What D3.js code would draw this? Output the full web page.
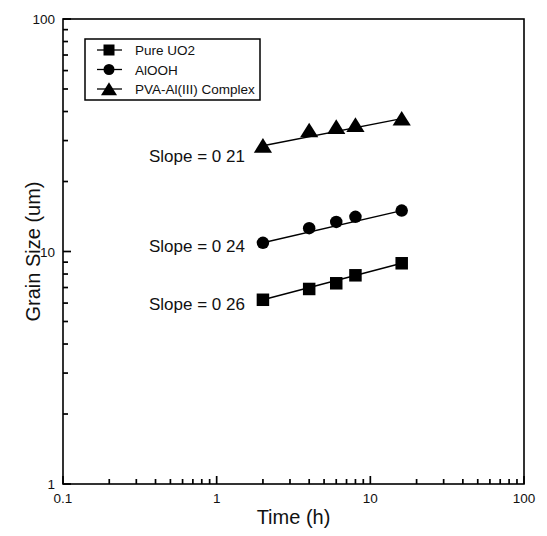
<!DOCTYPE html>
<html>
<head>
<meta charset="utf-8">
<script src="https://cdn.jsdelivr.net/npm/d3@7"></script>
<style>
  body { margin: 0; background: #fff; }
  svg { font-family: "Liberation Sans", Arial, sans-serif; }
</style>
</head>
<body>
<div id="drawing"></div>
<script>
// data
const times = [2, 4, 6, 8, 16];
const pureUO2 = [6.2, 6.9, 7.3, 7.9, 8.9];
const alooh = [10.9, 12.6, 13.4, 14.1, 15.0];
const pvaAl = [28.5, 33.2, 34.3, 35.0, 37.3];
const seriesNames = ["Pure UO2", "AlOOH", "PVA-Al(III) Complex"];
const seriesShapes = ["square", "circle", "triangle"];
const slopeLabels = ["Slope = 0 26", "Slope = 0 24", "Slope = 0 21"];
const xTickValues = [0.1, 1, 10, 100];
const yTickValues = [1, 10, 100];

const width = 547;
const height = 536;
const margin = {top: 19, right: 23, bottom: 52, left: 63};
const w = width - margin.left - margin.right;
const h = height - margin.top - margin.bottom;

const svg = d3.select("#drawing").append("svg")
  .attr("width", width)
  .attr("height", height);

const g = svg.append("g")
  .attr("transform", `translate(${margin.left}, ${margin.top})`);

const xScale = d3.scaleLog().domain([0.1, 100]).range([0, w]);
const yScale = d3.scaleLog().domain([1, 100]).range([h, 0]);

function minors(lo, hi) {
  let out = [];
  for (let d = lo; d < hi; d *= 10) {
    for (let k = 2; k <= 9; k++) out.push(d * k);
  }
  return out;
}

// frame
g.append("rect")
  .attr("x", 0).attr("y", 0).attr("width", w).attr("height", h)
  .attr("fill", "none").attr("stroke", "#000").attr("stroke-width", 1.6);

// ticks, pointing inward, on bottom and left only
const xTicks = minors(0.1, 100).map(v => ({v: v, len: 5}))
  .concat(xTickValues.map(v => ({v: v, len: 8})));
const yTicks = minors(1, 100).map(v => ({v: v, len: 5}))
  .concat(yTickValues.map(v => ({v: v, len: 8})));

const tickLayer = g.append("g").attr("stroke", "#000").attr("stroke-width", 1.7);
xTicks.forEach(d => {
  tickLayer.append("line")
    .attr("x1", xScale(d.v)).attr("x2", xScale(d.v))
    .attr("y1", h).attr("y2", h - d.len);
});
yTicks.forEach(d => {
  tickLayer.append("line")
    .attr("x1", 0).attr("x2", d.len)
    .attr("y1", yScale(d.v)).attr("y2", yScale(d.v));
});

// tick labels
g.selectAll("text.xlab").data(xTickValues).join("text")
  .attr("class", "xlab")
  .attr("x", d => xScale(d)).attr("y", h + 19)
  .attr("text-anchor", "middle").attr("font-size", 13.5).attr("fill", "#111")
  .text(d => String(d));
g.selectAll("text.ylab").data(yTickValues).join("text")
  .attr("class", "ylab")
  .attr("x", -8).attr("y", d => yScale(d) + 5)
  .attr("text-anchor", "end").attr("font-size", 13.5).attr("fill", "#111")
  .text(d => String(d));

// axis titles
svg.append("text")
  .attr("x", margin.left + w / 2).attr("y", 524)
  .attr("text-anchor", "middle").attr("font-size", 20).attr("fill", "#111")
  .text("Time (h)");
svg.append("text")
  .attr("transform", `translate(40, ${margin.top + h / 2}) rotate(-90)`)
  .attr("text-anchor", "middle").attr("font-size", 20).attr("fill", "#111")
  .text("Grain Size (um)");

const allSeries = [pureUO2, alooh, pvaAl];

function drawMarker(sel, shape, size) {
  if (shape === "square") {
    sel.append("rect").attr("x", -size / 2).attr("y", -size / 2)
      .attr("width", size).attr("height", size).attr("fill", "#000");
  } else if (shape === "circle") {
    sel.append("circle").attr("r", size / 2).attr("fill", "#000");
  } else {
    const s = size * 1.12;
    sel.append("path")
      .attr("d", `M0,${-s * 0.55}L${s * 0.65},${s * 0.5}L${-s * 0.65},${s * 0.5}Z`)
      .attr("fill", "#000");
  }
}

// fit line: straight from first to last point
const lineGen = d3.line()
  .x(d => xScale(d[0]))
  .y(d => yScale(d[1]));

allSeries.forEach((vals, si) => {
  const last = vals.length - 1;
  g.append("path")
    .attr("d", lineGen([[times[0], vals[0]], [times[last], vals[last]]]))
    .attr("fill", "none").attr("stroke", "#000").attr("stroke-width", 1.4);
  vals.forEach((v, i) => {
    const m = g.append("g").attr("transform", `translate(${xScale(times[i])}, ${yScale(v)})`);
    drawMarker(m, seriesShapes[si], 12.5);
  });
  // slope label, to the left of the first point
  g.append("text")
    .attr("x", xScale(times[0]) - 18)
    .attr("y", yScale(vals[0]) + (si === 2 ? 16 : si === 1 ? 9 : 10))
    .attr("text-anchor", "end").attr("font-size", 17).attr("fill", "#111")
    .text(slopeLabels[si]);
});

// legend
const legend = svg.append("g").attr("transform", "translate(85, 39)");
legend.append("rect")
  .attr("width", 175).attr("height", 61)
  .attr("fill", "#fff").attr("stroke", "#000").attr("stroke-width", 1.5);
seriesNames.forEach((name, i) => {
  const row = legend.append("g").attr("transform", `translate(0, ${11 + i * 19.5})`);
  row.append("line").attr("x1", 12).attr("x2", 37).attr("y1", 0).attr("y2", 0)
    .attr("stroke", "#000").attr("stroke-width", 1.3);
  const m = row.append("g").attr("transform", "translate(24, 0)");
  drawMarker(m, seriesShapes[i], 11);
  row.append("text").attr("x", 50).attr("y", 5)
    .attr("font-size", 13.5).attr("fill", "#111").text(name);
});
</script>
</body>
</html>
